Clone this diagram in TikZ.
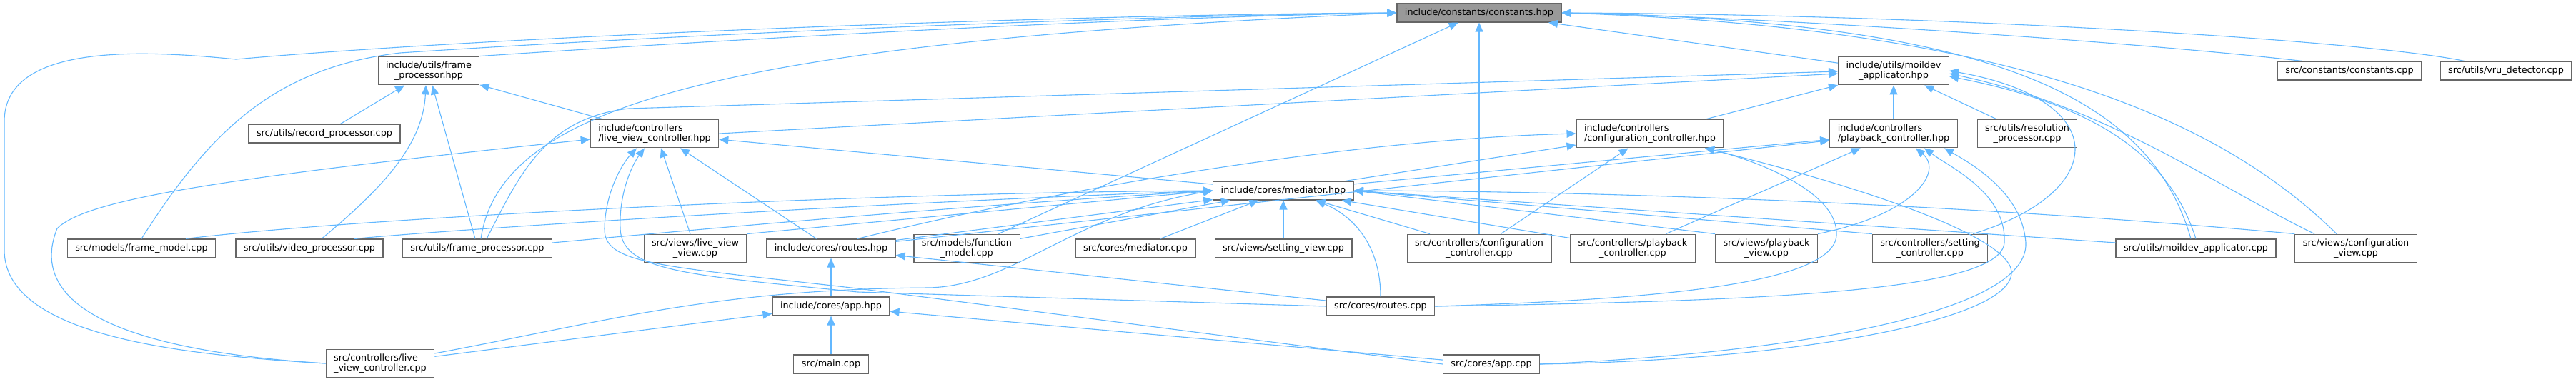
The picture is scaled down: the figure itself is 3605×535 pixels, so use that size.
\documentclass[tikz,border=0pt]{standalone}
\usepackage{fontspec}
\setmainfont{DejaVu Sans}
\usetikzlibrary{arrows.meta}
\definecolor{depblue}{HTML}{63B8FF}
\definecolor{boxgray}{HTML}{666666}
\definecolor{rootgray}{HTML}{999999}

\begin{document}
\begin{tikzpicture}[x=1pt,y=-1pt,
  file/.style={draw=boxgray,line width=1.1pt,fill=white,font=\fontsize{12.8}{14}\selectfont,inner xsep=11pt,inner ysep=6.5pt,minimum height=26pt,align=center},
  dep/.style={draw=depblue,line width=1.1pt,-{Triangle[length=13pt,width=11pt]}}]
\useasboundingbox (0,0) rectangle (3605,535);

\node[file,fill=rootgray] (cst) at (2070,18) {include/constants/constants.hpp};
\node[file] (fph) at (600,99) {include/utils/frame\\\_processor.hpp};
\node[file] (mah) at (2650,99) {include/utils/moildev\\\_applicator.hpp};
\node[file] (ccpp) at (3288,99) {src/constants/constants.cpp};
\node[file] (vru) at (3507,99) {src/utils/vru\_detector.cpp};
\node[file] (rec) at (454,187) {src/utils/record\_processor.cpp};
\node[file,align=left] (lvh) at (916,187) {include/controllers\\/live\_view\_controller.hpp};
\node[file,align=left] (cch) at (2309,187) {include/controllers\\/configuration\_controller.hpp};
\node[file,align=left] (pch) at (2650,187) {include/controllers\\/playback\_controller.hpp};
\node[file] (res) at (2837,187) {src/utils/resolution\\\_processor.cpp};
\node[file] (med) at (1796,267) {include/cores/mediator.hpp};
\node[file] (fmc) at (198,348) {src/models/frame\_model.cpp};
\node[file] (vpc) at (433,348) {src/utils/video\_processor.cpp};
\node[file] (fpc) at (668,348) {src/utils/frame\_processor.cpp};
\node[file] (lvv) at (973,348) {src/views/live\_view\\\_view.cpp};
\node[file] (rth) at (1163,348) {include/cores/routes.hpp};
\node[file] (fnm) at (1353,348) {src/models/function\\\_model.cpp};
\node[file] (mdc) at (1589,348) {src/cores/mediator.cpp};
\node[file] (svc) at (1796,348) {src/views/setting\_view.cpp};
\node[file] (ccc) at (2070,348) {src/controllers/configuration\\\_controller.cpp};
\node[file] (pcc) at (2285,348) {src/controllers/playback\\\_controller.cpp};
\node[file] (pvc) at (2472,348) {src/views/playback\\\_view.cpp};
\node[file] (scc) at (2701,348) {src/controllers/setting\\\_controller.cpp};
\node[file] (mac) at (3073,348) {src/utils/moildev\_applicator.cpp};
\node[file] (cvc) at (3297,348) {src/views/configuration\\\_view.cpp};
\node[file] (aph) at (1163,429) {include/cores/app.hpp};
\node[file] (rtc) at (1932,429) {src/cores/routes.cpp};
\node[file,align=left] (lvc) at (532,509) {src/controllers/live\\\_view\_controller.cpp};
\node[file] (mnc) at (1163,510) {src/main.cpp};
\node[file] (apc) at (2087,510) {src/cores/app.cpp};

% constants.hpp
\draw[dep] (lvc.west) .. controls (250,497) and (6,470) .. (6,350) -- (6,170) .. controls (6,60) and (200,70) .. (330,83) .. controls (700,50) and (1500,20) .. (cst.west);
\draw[dep] (fmc.north) .. controls (290,190) and (380,95) .. (560,74) .. controls (1000,45) and (1600,22) .. (cst.west);
\draw[dep] (fph.north east) .. controls (1100,50) and (1600,24) .. (cst.west);
\draw[dep] ([xshift=5pt]fpc.north) .. controls (700,150) and (1000,60) .. (cst.west);
\draw[dep] (fnm) -- (cst);
\draw[dep] (ccc) -- (cst);
\draw[dep] (mah) -- (cst);
\draw[dep] ([xshift=-66pt]ccpp.north) .. controls (3000,60) and (2500,25) .. (cst.east);
\draw[dep] ([xshift=-58pt]vru.north) .. controls (3300,55) and (2700,20) .. (cst.east);
\draw[dep] ([xshift=-7pt]mac.north) .. controls (3010,140) and (2800,30) .. (cst.east);
\draw[dep] ([xshift=-27pt]cvc.north) .. controls (3120,180) and (2850,40) .. (cst.east);

% frame_processor.hpp
\draw[dep] (rec) -- (fph);
\draw[dep] ([xshift=17pt]vpc.north) .. controls (540,260) and (592,200) .. ([xshift=-4pt]fph.south);
\draw[dep] ([xshift=-3pt]fpc.north) -- ([xshift=5pt]fph.south);
\draw[dep] (lvh) -- (fph);

% moildev_applicator.hpp
\draw[dep] (lvh.east) -- ([yshift=-4pt]mah.west);
\draw[dep] ([xshift=13pt]fpc.north) .. controls (725,250) and (760,165) .. (880,152) -- ([yshift=-1pt]mah.west);
\draw[dep] (cch) -- (mah);
\draw[dep] (pch) -- (mah);
\draw[dep] (res) -- (mah);
\draw[dep] ([xshift=60pt]scc.north) .. controls (2950,270) and (2960,140) .. (mah.east);
\draw[dep] (mac.north) .. controls (3040,230) and (2950,150) .. ([yshift=-8pt]mah.east);
\draw[dep] ([xshift=-58pt]cvc.north) .. controls (3100,260) and (2950,150) .. ([yshift=-4pt]mah.east);

% live_view_controller.hpp
\draw[dep] (med) -- (lvh);
\draw[dep] (rth) -- ([xshift=36pt]lvh.south);
\draw[dep] (lvv) -- ([xshift=9pt]lvh.south);
\draw[dep] (lvc.west) .. controls (150,490) and (40,420) .. (80,320) .. controls (120,280) and (300,250) .. ([yshift=-8pt]lvh.west);
\draw[dep] (rtc.west) -- (1200,409) .. controls (960,385) and (870,380) .. (868,320) .. controls (866,270) and (885,230) .. ([xshift=-14pt]lvh.south);
\draw[dep] (apc.west) -- (1200,404) .. controls (920,372) and (845,370) .. (846,320) .. controls (847,270) and (870,230) .. ([xshift=-25pt]lvh.south);

% configuration_controller.hpp
\draw[dep] (med) -- (cch);
\draw[dep] ([xshift=37pt]rth.north) .. controls (1500,260) and (1900,195) .. (cch.west);
\draw[dep] (ccc) -- (cch);
\draw[dep] (rtc.east) .. controls (2300,420) and (2565,400) .. (2570,330) .. controls (2574,270) and (2460,225) .. ([xshift=77pt]cch.south);
\draw[dep] (apc.east) .. controls (2500,505) and (2820,450) .. (2815,380) .. controls (2810,330) and (2600,260) .. ([xshift=77pt]cch.south);

% playback_controller.hpp
\draw[dep] (med) -- (pch);
\draw[dep] (rth) -- (pch);
\draw[dep] (pcc) -- (pch);
\draw[dep] (pvc.north east) .. controls (2680,300) and (2720,240) .. ([xshift=31pt]pch.south);
\draw[dep] (rtc.east) .. controls (2450,422) and (2800,410) .. (2805,340) .. controls (2808,270) and (2730,235) .. ([xshift=43pt]pch.south);
\draw[dep] (apc.east) .. controls (2500,495) and (2840,440) .. (2835,340) .. controls (2830,270) and (2760,230) .. ([xshift=71pt]pch.south);

% mediator.hpp
\draw[dep] ([xshift=62pt]fmc.north) .. controls (500,305) and (1200,270) .. (med.west);
\draw[dep] ([xshift=63pt]vpc.north) .. controls (650,320) and (1200,285) .. (med.west);
\draw[dep] ([yshift=8pt]fpc.east) .. controls (1100,310) and (1400,285) .. (med.west);
\draw[dep] (lvv.north east) -- (med.west);
\draw[dep] (rth) -- (med);
\draw[dep] ([yshift=14pt]lvc.east) .. controls (850,450) and (1000,405) .. (1300,403) .. controls (1420,400) and (1500,300) .. (med.west);
\draw[dep] (fnm) -- (med);
\draw[dep] (mdc) -- (med);
\draw[dep] (svc) -- (med);
\draw[dep] (rtc.north) .. controls (1932,350) and (1900,305) .. ([xshift=45pt]med.south);
\draw[dep] (ccc) -- (med);
\draw[dep] (pcc) -- (med);
\draw[dep] (pvc.north west) -- (med.east);
\draw[dep] (scc.north west) -- (med.east);
\draw[dep] ([yshift=8pt]mac.west) -- (med.east);
\draw[dep] (cvc.north west) .. controls (2800,290) and (2300,268) .. (med.east);

% routes.hpp, app.hpp
\draw[dep] (aph) -- (rth);
\draw[dep] (rtc) -- (rth);
\draw[dep] (mnc) -- (aph);
\draw[dep] (apc) -- (aph);
\draw[dep] (lvc) -- (aph);
\end{tikzpicture}
\end{document}
